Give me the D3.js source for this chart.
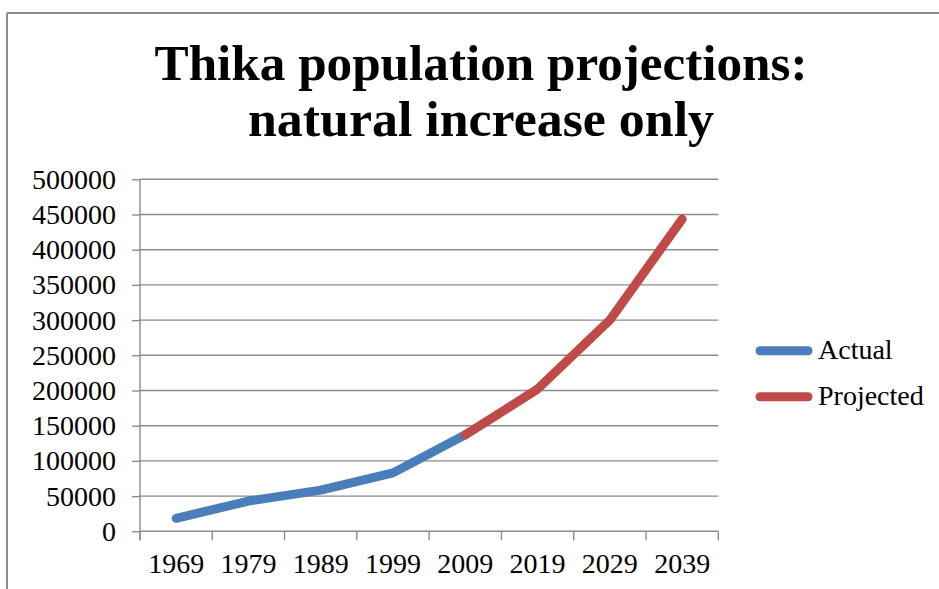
<!DOCTYPE html>
<html>
<head>
<meta charset="utf-8">
<script src="https://cdn.jsdelivr.net/npm/d3@7"></script>
<style>
  html, body { margin: 0; padding: 0; background: #ffffff; }
  svg { display: block; }
  text { font-family: "Liberation Serif", "DejaVu Serif", serif; fill: #000; }
</style>
</head>
<body>
<svg id="chart" width="939" height="589"></svg>
<script>
// Census years (category axis)
const years = ["1969", "1979", "1989", "1999", "2009", "2019", "2029", "2039"];
// Recorded population (census counts)
const actual = [18400, 43000, 58500, 83000, 137000, null, null, null];
// Projection from natural increase only, continuing from the 2009 count
const projected = [null, null, null, null, 137000, 202000, 300000, 443500];
// Value axis ticks
const yTicks = [0, 50000, 100000, 150000, 200000, 250000, 300000, 350000, 400000, 450000, 500000];
const seriesNames = ["Actual", "Projected"];
const seriesColors = ["#4a7ebb", "#be4b48"];
const titleLines = ["Thika population projections:", "natural increase only"];

(function draw() {
  const svg = d3.select("#chart");
  const gridColor = "#8c8c8c";

  // Outer chart frame (top and left edges visible)
  svg.append("line").attr("x1", 7).attr("x2", 939).attr("y1", 13).attr("y2", 13)
    .attr("stroke", gridColor).attr("stroke-width", 2);
  svg.append("line").attr("x1", 7).attr("x2", 7).attr("y1", 13).attr("y2", 589)
    .attr("stroke", gridColor).attr("stroke-width", 2);

  // Plot area
  const plotLeft = 140, plotRight = 718.3, plotTop = 179.3, plotBottom = 531.3;

  const x = d3.scaleBand().domain(years).range([plotLeft, plotRight]).padding(0);
  const y = d3.scaleLinear().domain([0, 500000]).range([plotBottom, plotTop]);
  const cx = d => x(d) + x.bandwidth() / 2;

  // Title
  const title = svg.append("g");
  const titleWidths = [653, 466];
  const titleBaselines = [80, 136];
  titleLines.forEach((t, i) => {
    title.append("text")
      .attr("x", 481).attr("y", titleBaselines[i])
      .attr("text-anchor", "middle")
      .attr("font-size", 50).attr("font-weight", "bold")
      .attr("textLength", titleWidths[i])
      .attr("lengthAdjust", "spacingAndGlyphs")
      .text(t);
  });

  // Horizontal gridlines
  svg.append("g")
    .selectAll("line")
    .data(yTicks.filter(v => v > 0))
    .join("line")
    .attr("x1", plotLeft).attr("x2", plotRight)
    .attr("y1", d => y(d)).attr("y2", d => y(d))
    .attr("stroke", gridColor).attr("stroke-width", 1.4);

  // Value axis
  const yAxis = svg.append("g")
    .attr("transform", `translate(${plotLeft},0)`)
    .call(d3.axisLeft(y).tickValues(yTicks).tickSize(8).tickPadding(16).tickFormat(d3.format("d")));
  yAxis.select(".domain").remove();
  yAxis.selectAll(".tick line").attr("stroke", gridColor).attr("stroke-width", 1.4);
  yAxis.selectAll(".tick text")
    .attr("font-size", 28)
    .attr("font-family", "Liberation Serif, serif")
    .attr("fill", "#000")
    .attr("dy", "0.32em");
  yAxis.append("line")
    .attr("x1", 0).attr("x2", 0).attr("y1", plotTop).attr("y2", plotBottom + 9)
    .attr("stroke", gridColor).attr("stroke-width", 1.4);

  // Category axis: line, boundary ticks, centred labels
  const xAxis = svg.append("g");
  xAxis.append("line")
    .attr("x1", plotLeft).attr("x2", plotRight).attr("y1", plotBottom).attr("y2", plotBottom)
    .attr("stroke", gridColor).attr("stroke-width", 1.4);
  const boundaries = years.map(d => x(d)).concat([x.range()[1]]);
  xAxis.selectAll("line.tk")
    .data(boundaries)
    .join("line")
    .attr("class", "tk")
    .attr("x1", d => d).attr("x2", d => d)
    .attr("y1", plotBottom).attr("y2", plotBottom + 9)
    .attr("stroke", gridColor).attr("stroke-width", 1.4);
  xAxis.selectAll("text")
    .data(years)
    .join("text")
    .attr("x", d => cx(d)).attr("y", 573)
    .attr("text-anchor", "middle")
    .attr("font-size", 28)
    .text(d => d);

  // Series lines
  const line = d3.line()
    .defined(d => d.v !== null)
    .x(d => cx(d.year))
    .y(d => y(d.v));

  [actual, projected].forEach((vals, i) => {
    const pts = years.map((yr, j) => ({ year: yr, v: vals[j] }));
    svg.append("path")
      .datum(pts)
      .attr("d", line)
      .attr("fill", "none")
      .attr("stroke", seriesColors[i])
      .attr("stroke-width", 9)
      .attr("stroke-linecap", "round")
      .attr("stroke-linejoin", "round");
  });

  // Legend
  const legend = svg.append("g");
  const legendY = [350.7, 396.7];
  seriesNames.forEach((name, i) => {
    legend.append("line")
      .attr("x1", 760).attr("x2", 808)
      .attr("y1", legendY[i]).attr("y2", legendY[i])
      .attr("stroke", seriesColors[i])
      .attr("stroke-width", 9)
      .attr("stroke-linecap", "round");
    legend.append("text")
      .attr("x", 818).attr("y", legendY[i] + 7.8)
      .attr("font-size", 28)
      .text(name);
  });
})();
</script>
</body>
</html>
